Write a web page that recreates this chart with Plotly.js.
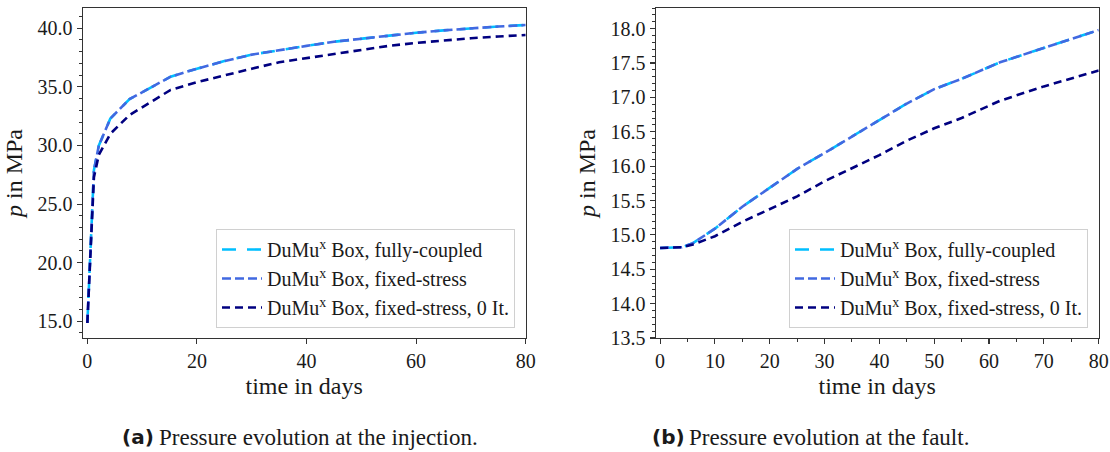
<!DOCTYPE html>
<html>
<head>
<meta charset="utf-8">
<script src="https://cdn.plot.ly/plotly-3.0.1.min.js"></script>
<style>html,body{margin:0;padding:0;background:#fff;}#chart{width:1110px;height:452px;}</style>
</head>
<body>
<div id="chart"></div>
<script>
// ---- Data ----
const seriesNames = [
  "DuMu<sup>x</sup> Box, fully-coupled",
  "DuMu<sup>x</sup> Box, fixed-stress",
  "DuMu<sup>x</sup> Box, fixed-stress, 0 It."
];

// (a) injection
const timeA = [0, 1.2, 2.1, 4.2, 7.7, 15.2, 20, 25, 30, 35, 40, 45, 50, 55, 60, 65, 70, 75, 80];
const injFullyCoupled = [14.85, 27.9, 30.0, 32.3, 33.95, 35.87, 36.55, 37.2, 37.75, 38.15, 38.5, 38.85, 39.12, 39.4, 39.62, 39.82, 40.0, 40.15, 40.28];
const injFixedStress  = [14.85, 27.9, 30.0, 32.3, 33.95, 35.87, 36.55, 37.2, 37.75, 38.15, 38.5, 38.85, 39.12, 39.4, 39.62, 39.82, 40.0, 40.15, 40.28];
const injFixedStress0 = [14.85, 27.3, 29.2, 31.0, 32.6, 34.74, 35.4, 36.0, 36.55, 37.1, 37.45, 37.8, 38.15, 38.5, 38.75, 38.98, 39.15, 39.3, 39.43];

// (b) fault
const timeB = [0, 2, 4, 6, 8, 10, 15, 20, 25, 30, 35, 40, 45, 50, 55, 62, 70, 80];
const faultFullyCoupled = [14.81, 14.81, 14.82, 14.88, 14.99, 15.09, 15.41, 15.69, 15.96, 16.19, 16.43, 16.67, 16.91, 17.12, 17.27, 17.51, 17.72, 17.98];
const faultFixedStress  = [14.81, 14.81, 14.82, 14.88, 14.99, 15.09, 15.41, 15.69, 15.96, 16.19, 16.43, 16.67, 16.91, 17.12, 17.27, 17.51, 17.72, 17.98];
const faultFixedStress0 = [14.81, 14.81, 14.82, 14.86, 14.92, 14.98, 15.19, 15.38, 15.56, 15.78, 15.97, 16.16, 16.37, 16.55, 16.70, 16.95, 17.16, 17.39];

const yTicksA = [15, 20, 25, 30, 35, 40];
const yTicksB = [13.5, 14, 14.5, 15, 15.5, 16, 16.5, 17, 17.5, 18];
const xTicksA = [0, 20, 40, 60, 80];
const xTicksB = [0, 10, 20, 30, 40, 50, 60, 70, 80];

// ---- Styles ----
const colors = ["#00BFFF", "#4169E1", "#000080"];
const dashes = ["14px,11px", "9px,4px", "8px,5px"];
const serif = "Liberation Serif";
const txt = "#1a1a1a";

function mk(x, y, i, xa, ya, leg) {
  return {
    x: x, y: y, type: "scatter", mode: "lines",
    name: seriesNames[i], xaxis: xa, yaxis: ya, legend: leg,
    line: {color: colors[i], width: 2.6, dash: dashes[i]},
    hoverinfo: "skip"
  };
}

const traces = [
  mk(timeA, injFullyCoupled, 0, "x", "y", "legend"),
  mk(timeA, injFixedStress, 1, "x", "y", "legend"),
  mk(timeA, injFixedStress0, 2, "x", "y", "legend"),
  mk(timeB, faultFullyCoupled, 0, "x2", "y2", "legend2"),
  mk(timeB, faultFixedStress, 1, "x2", "y2", "legend2"),
  mk(timeB, faultFixedStress0, 2, "x2", "y2", "legend2")
];

const axBase = {
  showgrid: false, zeroline: false, showline: true, mirror: true,
  linecolor: "#333", linewidth: 1.2,
  ticks: "outside", ticklen: 5, tickwidth: 1.1, tickcolor: "#333",
  tickfont: {family: serif, size: 20, color: txt}
};

function W(px) { return px / 1110; }
function H(py) { return 1 - py / 452; }

const legBase = {
  bgcolor: "rgba(255,255,255,0.85)", bordercolor: "#d0d0d0", borderwidth: 1,
  font: {family: serif, size: 20, color: txt},
  xanchor: "right", yanchor: "bottom", tracegroupgap: 0, itemwidth: 40
};

const layout = {
  width: 1110, height: 452,
  margin: {l: 0, r: 0, t: 0, b: 0},
  font: {family: serif, color: txt},
  paper_bgcolor: "#fff", plot_bgcolor: "#fff",
  showlegend: true,
  xaxis: Object.assign({}, axBase, {
    domain: [W(82.7), W(525.7)], range: [-0.85, 80], anchor: "y",
    tickvals: xTicksA,
    title: {text: "time in days", font: {family: serif, size: 24, color: txt}, standoff: 6}
  }),
  yaxis: Object.assign({}, axBase, {
    domain: [H(338), H(8)], range: [13.57, 41.73], anchor: "x",
    tickvals: yTicksA, tickformat: ".1f",
    minor: {dtick: 1, ticks: "outside", ticklen: 3, tickcolor: "#333", tickwidth: 1, showgrid: false},
    title: {text: "<i>p</i> in MPa", font: {family: serif, size: 24, color: txt}, standoff: 8}
  }),
  xaxis2: Object.assign({}, axBase, {
    domain: [W(655.7), W(1098.7)], range: [-0.8, 80], anchor: "y2",
    tickvals: xTicksB,
    minor: {dtick: 5, ticks: "outside", ticklen: 3, tickcolor: "#333", tickwidth: 1, showgrid: false},
    title: {text: "time in days", font: {family: serif, size: 24, color: txt}, standoff: 6}
  }),
  yaxis2: Object.assign({}, axBase, {
    domain: [H(338), H(8)], range: [13.5, 18.3], anchor: "x2",
    tickvals: yTicksB, tickformat: ".1f",
    minor: {dtick: 0.1, ticks: "outside", ticklen: 3, tickcolor: "#333", tickwidth: 1, showgrid: false},
    title: {text: "<i>p</i> in MPa", font: {family: serif, size: 24, color: txt}, standoff: 8}
  }),
  legend: Object.assign({}, legBase, {x: W(515), y: H(328)}),
  legend2: Object.assign({}, legBase, {x: W(1088), y: H(328)}),
  annotations: [
    {xref: "paper", yref: "paper", x: W(120), y: H(437), xanchor: "left", yanchor: "middle",
     showarrow: false, text: "<b>(a)</b>", font: {family: "DejaVu Sans", size: 20, color: txt}},
    {xref: "paper", yref: "paper", x: W(157), y: H(437), xanchor: "left", yanchor: "middle",
     showarrow: false, text: "Pressure evolution at the injection.", font: {family: serif, size: 23, color: txt}},
    {xref: "paper", yref: "paper", x: W(650), y: H(437), xanchor: "left", yanchor: "middle",
     showarrow: false, text: "<b>(b)</b>", font: {family: "DejaVu Sans", size: 20, color: txt}},
    {xref: "paper", yref: "paper", x: W(687), y: H(437), xanchor: "left", yanchor: "middle",
     showarrow: false, text: "Pressure evolution at the fault.", font: {family: serif, size: 23, color: txt}}
  ]
};

Plotly.newPlot("chart", traces, layout, {staticPlot: true, displayModeBar: false});
</script>
</body>
</html>
